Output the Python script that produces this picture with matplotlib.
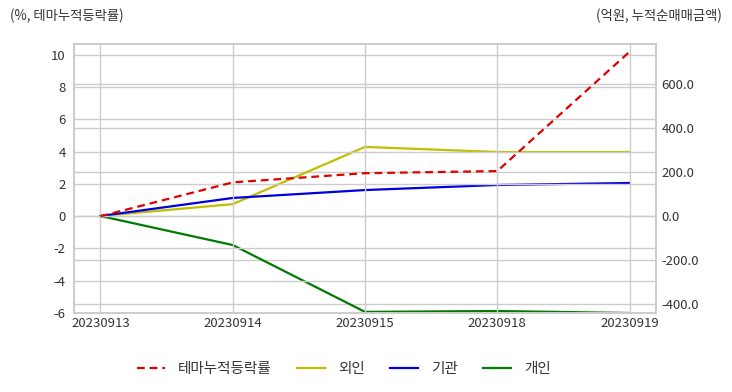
import matplotlib.pyplot as plt
import numpy as np

plt.rcParams['font.family'] = ['Noto Sans CJK KR', 'DejaVu Sans']
plt.rcParams['axes.unicode_minus'] = False

dates = ['20230913', '20230914', '20230915', '20230918', '20230919']
theme_rate = [0.0, 2.1, 2.67, 2.8, 10.2]      # 테마누적등락률 (%)
foreign = [0.0, 54.0, 314.0, 291.0, 291.0]    # 외인 (억원)
inst = [0.0, 82.0, 118.0, 141.0, 150.0]       # 기관
indiv = [0.0, -132.0, -436.0, -432.0, -441.0] # 개인

left_ticks = [-6, -4, -2, 0, 2, 4, 6, 8, 10]
right_ticks = [-400, -200, 0, 200, 400, 600]

grid_c = '#cccccc'
txt_c = '#333333'

fig = plt.figure(figsize=(7.32, 3.92), dpi=100)
ax = fig.add_axes([74/732, 1-313/392, 582/732, 269/392])
ax2 = ax.twinx()

x = np.arange(len(dates))
l1, = ax.plot(x, theme_rate, color='#e00000', linestyle='--', linewidth=1.6, dashes=(3.5, 2.2), label='테마누적등락률', zorder=5)
l2, = ax2.plot(x, foreign, color='#bfbf00', linewidth=1.6, label='외인')
l3, = ax2.plot(x, inst, color='#0000dd', linewidth=1.6, label='기관')
l4, = ax2.plot(x, indiv, color='#007a00', linewidth=1.6, label='개인')
ax.set_zorder(ax2.get_zorder() + 1)
ax.patch.set_visible(False)

ax.set_xlim(-0.2, 4.2)
ax.set_ylim(-6, 10.68)
ax2.set_ylim(-441, 782)
ax.set_xticks(x)
ax.set_xticklabels(dates)
ax.set_yticks(left_ticks)
ax2.set_yticks(right_ticks)
ax2.set_yticklabels([f'{v:.1f}' for v in right_ticks])

ax.grid(True, color=grid_c, linewidth=1)
ax2.grid(True, axis='y', color=grid_c, linewidth=1)
for a in (ax, ax2):
    for s in a.spines.values():
        s.set_color(grid_c)
        s.set_linewidth(1.2)
    a.tick_params(length=0, labelsize=9.5, colors=txt_c)
ax.tick_params(axis='y', pad=6)
ax.tick_params(axis='x', pad=3)
ax2.tick_params(axis='y', pad=4)

fig.text(10/732, 1-16/392, '(%, 테마누적등락률)', fontsize=9.6, color=txt_c, va='center', ha='left')
fig.text(722/732, 1-16/392, '(억원, 누적순매매금액)', fontsize=9.6, color=txt_c, va='center', ha='right')

fig.legend(handles=[l1, l2, l3, l4], loc='center', bbox_to_anchor=(0.47, 1-369/392),
           ncol=4, frameon=False, fontsize=10.5, handlelength=1.9, handletextpad=0.9,
           columnspacing=1.75, labelcolor=txt_c)

fig.savefig('out.png', dpi=100)
